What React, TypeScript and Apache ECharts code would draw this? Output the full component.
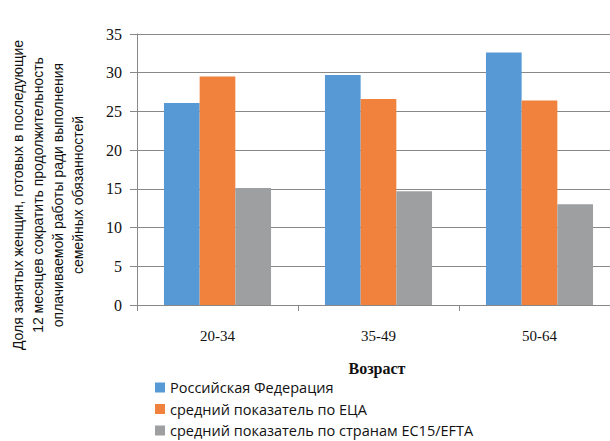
import React, { useEffect, useRef } from "react";
import * as echarts from "echarts";

const categories = ["20-34", "35-49", "50-64"];
const seriesNames = [
  "Российская Федерация",
  "средний показатель по ЕЦА",
  "средний показатель по странам ЕС15/EFTA",
];
const russia = [26.1, 29.7, 32.6];
const eca = [29.5, 26.6, 26.4];
const eu15 = [15.1, 14.7, 13.0];
const yTitleLines = [
  "Доля занятых женщин, готовых в последующие",
  "12 месяцев сократить продолжительность",
  "оплачиваемой работы ради выполнения",
  "семейных обязанностей",
];
const xTitle = "Возраст";
const colors = ["#5799D4", "#F0823D", "#9E9FA0"];

export default function App() {
  const ref = useRef<HTMLDivElement>(null);
  useEffect(() => {
    if (!ref.current) return;
    const chart = echarts.init(ref.current, undefined, { renderer: "svg" });
    const values = [russia, eca, eu15];
    chart.setOption({
      animation: false,
      backgroundColor: "#fff",
      color: colors,
      grid: { left: 137, top: 34, width: 483, height: 271, containLabel: false },
      legend: {
        orient: "vertical",
        left: 150,
        top: 375,
        itemWidth: 10,
        itemHeight: 10,
        itemGap: 6.5,
        icon: "rect",
        textStyle: {
          fontFamily: "Open Sans",
          fontSize: 14.5,
          lineHeight: 15,
          color: "#111",
        },
        data: seriesNames,
      },
      xAxis: {
        type: "category",
        data: categories,
        axisLine: { lineStyle: { color: "#888", width: 1 } },
        axisTick: { show: true, length: 6, lineStyle: { color: "#888" } },
        axisLabel: {
          margin: 23,
          fontFamily: "Liberation Serif",
          fontSize: 15,
          color: "#111",
        },
      },
      yAxis: {
        type: "value",
        min: 0,
        max: 35,
        interval: 5,
        axisLine: { show: true, lineStyle: { color: "#888", width: 1 } },
        axisTick: { show: true, length: 7, lineStyle: { color: "#888" } },
        splitLine: { lineStyle: { color: "#888", width: 1 } },
        axisLabel: {
          margin: 15,
          fontFamily: "Liberation Serif",
          fontSize: 16,
          color: "#111",
        },
      },
      graphic: [
        {
          type: "text",
          x: 48,
          y: 195,
          rotation: Math.PI / 2,
          style: {
            text: yTitleLines.join("\n"),
            fontFamily: "Liberation Sans",
            fontSize: 14,
            lineHeight: 20,
            fill: "#111",
            align: "center",
            verticalAlign: "middle",
          },
        },
        {
          type: "text",
          x: 377,
          y: 368,
          style: {
            text: xTitle,
            fontFamily: "Liberation Serif",
            fontWeight: "bold",
            fontSize: 16,
            fill: "#111",
            align: "center",
            verticalAlign: "middle",
          },
        },
      ],
      series: seriesNames.map((name, i) => ({
        name,
        type: "bar",
        data: values[i],
        barGap: "0%",
        barCategoryGap: "33.5%",
        itemStyle: { color: colors[i] },
      })),
    });
    return () => chart.dispose();
  }, []);
  return (
    <div
      style={{
        position: "absolute",
        left: 0,
        top: 0,
        width: 610,
        height: 441,
        overflow: "hidden",
        background: "#fff",
      }}
    >
      <div ref={ref} style={{ width: 630, height: 480 }} />
    </div>
  );
}
